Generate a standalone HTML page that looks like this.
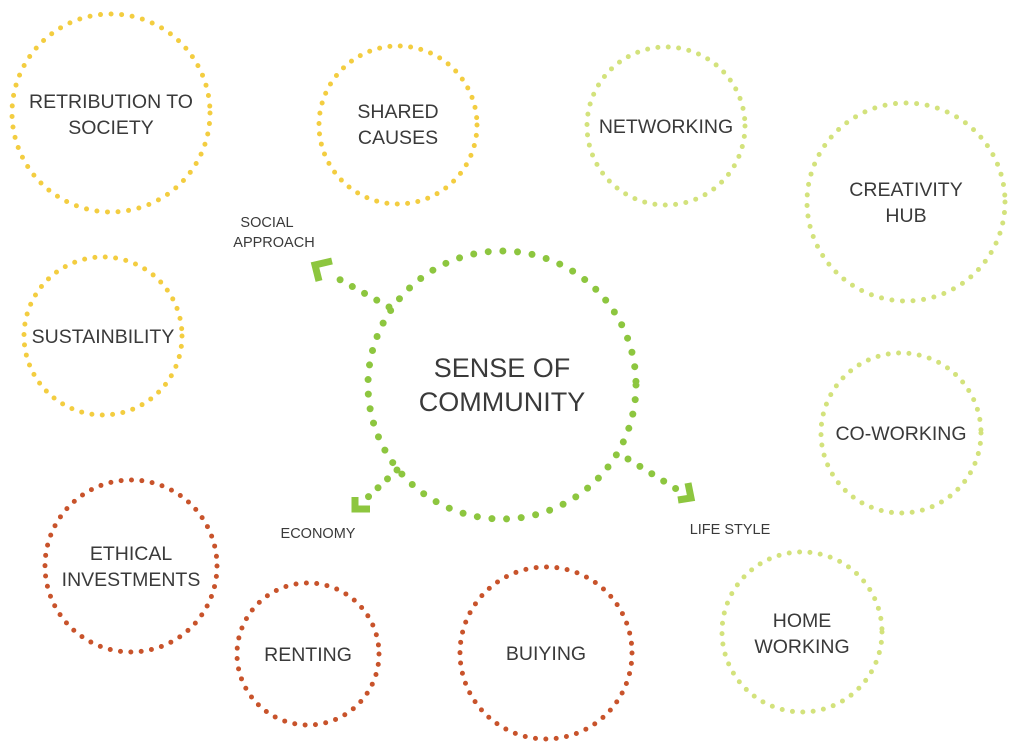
<!DOCTYPE html>
<html><head><meta charset="utf-8"><style>
html,body{margin:0;padding:0;background:#fff;}
svg{display:block;}
text{font-family:"Liberation Sans",sans-serif;fill:#3a3a3a;text-anchor:middle;}
</style></head><body>
<svg width="1024" height="750" viewBox="0 0 1024 750">
<g fill="none" stroke-linecap="round">
<circle cx="111" cy="113" r="99" stroke="#f3cd40" stroke-width="5" stroke-dasharray="0 10.6"/>
<circle cx="398" cy="125" r="79" stroke="#f3cd40" stroke-width="5" stroke-dasharray="0 10.4"/>
<circle cx="103" cy="336" r="79" stroke="#f3cd40" stroke-width="5" stroke-dasharray="0 10.4"/>
<circle cx="666" cy="126" r="79" stroke="#d3e27c" stroke-width="5" stroke-dasharray="0 10.4"/>
<circle cx="906" cy="202" r="99" stroke="#d3e27c" stroke-width="5" stroke-dasharray="0 10.6"/>
<circle cx="901" cy="433" r="80" stroke="#d3e27c" stroke-width="5" stroke-dasharray="0 10.4"/>
<circle cx="802" cy="632" r="80" stroke="#d3e27c" stroke-width="5" stroke-dasharray="0 10.4"/>
<circle cx="131" cy="566" r="86" stroke="#c8532b" stroke-width="5" stroke-dasharray="0 10.4"/>
<circle cx="308" cy="654" r="71" stroke="#c8532b" stroke-width="5" stroke-dasharray="0 10.4"/>
<circle cx="546" cy="653" r="86" stroke="#c8532b" stroke-width="5" stroke-dasharray="0 10.4"/>
<circle cx="502" cy="385" r="134" stroke="#8dc63f" stroke-width="7" stroke-dasharray="0 14.7"/>
<line x1="389" y1="307" x2="328" y2="273" stroke="#8dc63f" stroke-width="7" stroke-dasharray="0 14"/>
<line x1="397" y1="470" x2="366" y2="499" stroke="#8dc63f" stroke-width="7" stroke-dasharray="0 13"/>
<line x1="628" y1="459" x2="678" y2="490" stroke="#8dc63f" stroke-width="7" stroke-dasharray="0 14"/>
</g>
<g fill="none" stroke="#8dc63f" stroke-width="7" stroke-linecap="butt">
<polyline points="319,281 315,265 332,261"/>
<polyline points="355,497 355,509 370,509"/>
<polyline points="678,500 691,498 688,483"/>
</g>
<g font-size="19.5">
<text x="111" y="108">RETRIBUTION TO</text><text x="111" y="134">SOCIETY</text>
<text x="398" y="118">SHARED</text><text x="398" y="144">CAUSES</text>
<text x="666" y="133">NETWORKING</text>
<text x="906" y="196">CREATIVITY</text><text x="906" y="222">HUB</text>
<text x="103" y="343">SUSTAINBILITY</text>
<text x="901" y="440">CO-WORKING</text>
<text x="131" y="560">ETHICAL</text><text x="131" y="586">INVESTMENTS</text>
<text x="308" y="661">RENTING</text>
<text x="546" y="660">BUIYING</text>
<text x="802" y="627">HOME</text><text x="802" y="653">WORKING</text>
</g>
<g font-size="27"><text x="502" y="377">SENSE OF</text><text x="502" y="411">COMMUNITY</text></g>
<g font-size="14.5">
<text x="267" y="227">SOCIAL</text><text x="274" y="247">APPROACH</text>
<text x="318" y="538">ECONOMY</text>
<text x="730" y="534">LIFE STYLE</text>
</g>
</svg>
</body></html>
